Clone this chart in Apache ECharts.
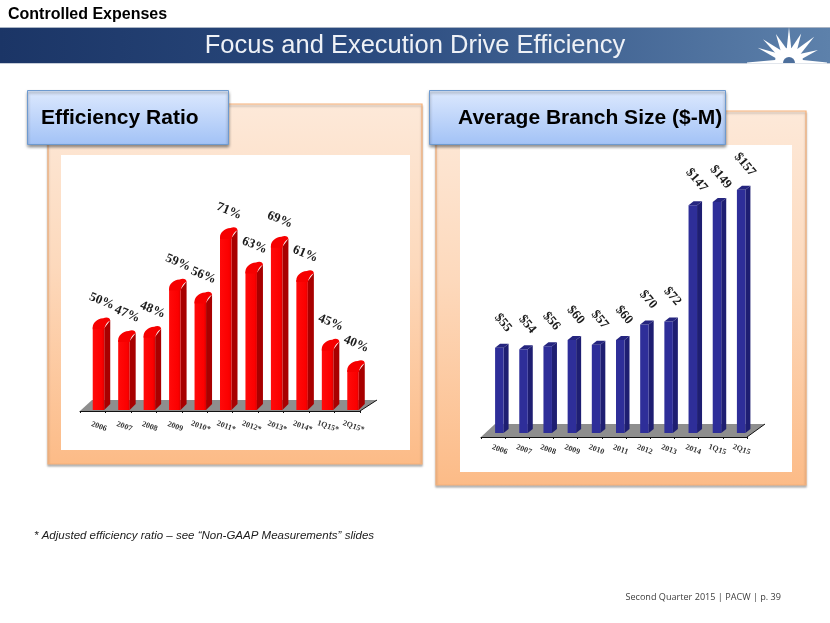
<!DOCTYPE html>
<html><head><meta charset="utf-8">
<style>html,body{margin:0;padding:0;background:#fff}#c{width:830px;height:623px}</style>
<script src="https://cdn.jsdelivr.net/npm/echarts@6/dist/echarts.min.js"></script>
</head><body><div id="c"></div>
<script>
const effCategories = ['2006','2007','2008','2009','2010*','2011*','2012*','2013*','2014*','1Q15*','2Q15*'];
const effValues = [50,47,48,59,56,71,63,69,61,45,40];
const branchCategories = ['2006','2007','2008','2009','2010','2011','2012','2013','2014','1Q15','2Q15'];
const branchValues = [55,54,56,60,57,60,70,72,147,149,157];

const chart = echarts.init(document.getElementById('c'), null, {renderer:'canvas'});
const deg = Math.PI/180;

function floorItem(cfg){
  return function(params, api){
    const r = params.coordSys;
    const fy = r.y + r.height + cfg.frontDrop, by = fy - cfg.floorDepth;
    const x0 = r.x, x1 = r.x + r.width;
    return {type:'group', children:[
      {type:'polygon', shape:{points:[[x0,fy],[x1,fy],[x1+cfg.floorRight,by],[x0+cfg.floorLeft,by]]},
       style:{fill:'#8e8e8e'}},
      {type:'polyline', shape:{points:[[x1,fy],[x1+cfg.floorRight,by]]},
       style:{stroke:'#111',lineWidth:1,fill:null}}
    ]};
  };
}

function barItem(cfg, fmt){
  return function(params, api){
    const v = api.value(1);
    const top = api.coord([api.value(0), v]);
    const bandC = top[0];
    const yb = params.coordSys.y + params.coordSys.height;
    const yt = top[1];
    const xl = bandC + cfg.barOffset, xr = xl + cfg.barWidth;
    const dx = cfg.depthX, dy = cfg.depthY;
    const kids = [];
    if (cfg.round){
      kids.push({type:'polygon', shape:{points:[[xr,yb],[xr+dx,yb-dy],[xr+dx,yt-dy+2],[xr,yt+4]]}, style:{fill:cfg.sideColor}});
      kids.push({type:'polygon', shape:{points:[[xl,yb],[xr,yb],[xr,yt+3],[xl,yt+3]]}, style:{fill:cfg.frontColor}});
      kids.push({type:'path', shape:{pathData:
        `M${xl} ${yt+3} C${xl} ${yt-1} ${xl+4} ${yt-dy+0.5} ${xr-1} ${yt-dy} C${xr+2} ${yt-dy-1.5} ${xr+dx} ${yt-dy-1} ${xr+dx} ${yt-dy+2.5} C${xr+dx-2} ${yt-dy+3} ${xr+1} ${yt} ${xr} ${yt+5} L${xl} ${yt+5} Z`},
        style:{fill:cfg.capColor}});
    } else {
      kids.push({type:'polygon', shape:{points:[[xr,yb],[xr+dx,yb-dy],[xr+dx,yt-dy],[xr,yt]]}, style:{fill:cfg.sideColor}});
      kids.push({type:'polygon', shape:{points:[[xl,yb],[xr,yb],[xr,yt],[xl,yt]]}, style:{fill:cfg.frontColor}});
      kids.push({type:'polygon', shape:{points:[[xl,yt],[xr,yt],[xr+dx,yt-dy],[xl+dx,yt-dy]]}, style:{fill:cfg.capColor}});
    }
    kids.push({type:'text', x:bandC+cfg.labelDx, y:yt+cfg.labelDy, rotation:-cfg.labelRot*deg,
      style:{text:fmt(v), font:`bold ${cfg.labelSize}px "Liberation Serif"`, fill:'#1c1c1c', align:'center', verticalAlign:'middle'}});
    return {type:'group', children:kids};
  };
}

const cfgL = {frontDrop:1,floorDepth:11,floorRight:17,floorLeft:12,barOffset:0,barWidth:11.5,depthX:6,depthY:6,
  round:true,sideColor:'#a80000',frontColor:{type:'linear',x:0,y:0,x2:1,y2:0,colorStops:[{offset:0,color:'#ff0a0a'},{offset:0.8,color:'#fb0000'},{offset:1,color:'#dc0000'}]},capColor:'#f60000',
  labelDx:9,labelDy:-23,labelRot:22,labelSize:13};
const cfgR = {frontDrop:4,floorDepth:13,floorRight:18,floorLeft:14,barOffset:2,barWidth:8.5,depthX:5,depthY:4,
  round:false,sideColor:'#1e1e72',frontColor:'#2e2e99',capColor:'#25257f',
  labelDx:10,labelDy:-25,labelRot:50,labelSize:13};

// decorative layer
const gfx = [];
gfx.push({type:'rect',z:-5,shape:{x:0,y:27,width:830,height:36.5},
  style:{fill:{type:'linear',x:0,y:0,x2:1,y2:0,colorStops:[{offset:0,color:'#1b3566'},{offset:0.45,color:'#2b4b7f'},{offset:1,color:'#5d81ab'}]}}});
gfx.push({type:'rect',z:-5,shape:{x:0,y:27,width:830,height:1},style:{fill:'#a9b4c4'}});
gfx.push({type:'rect',z:-5,shape:{x:0,y:63,width:830,height:1},style:{fill:'#c5ccd8'}});
// sun logo
const sunC = [789,61];
const rays = [[-67,34,3],[-50,34,3.5],[-26,30,3.5],[0,34,2.5],[24,30,3.5],[46,35,3.5],[69,31,3]];
rays.forEach(r=>{
  const a=r[0]*deg, tip=[sunC[0]+Math.sin(a)*r[1], sunC[1]-Math.cos(a)*r[1]];
  const w=r[2], px=Math.cos(a)*w, py=Math.sin(a)*w, bx=sunC[0]+Math.sin(a)*10, by=sunC[1]-Math.cos(a)*10;
  gfx.push({type:'polygon',z:-4,shape:{points:[tip,[bx+px,by+py],[bx-px,by-py]]},style:{fill:'#fff'}});
});
gfx.push({type:'sector',z:-4,shape:{cx:789,cy:62,r:14,startAngle:Math.PI,endAngle:2*Math.PI},style:{fill:'#fff'}});
gfx.push({type:'polygon',z:-4,shape:{points:[[747,62.5],[775,60],[803,60],[827,62.5],[827,63.5],[747,63.5]]},style:{fill:'#fff'}});
gfx.push({type:'sector',z:-3,shape:{cx:789,cy:63,r:6,startAngle:Math.PI,endAngle:2*Math.PI},style:{fill:'#4d6f9c'}});
// panels
function panel(x,y,w,h,wx,wy,ww,wh){
  gfx.push({type:'rect',z:-5,shape:{x,y,width:w,height:h},
    style:{fill:{type:'linear',x:0,y:0,x2:0,y2:1,colorStops:[{offset:0,color:'#fde9d9'},{offset:0.45,color:'#fdd9bc'},{offset:1,color:'#fcbb87'}]},
      stroke:'#f8b27a',lineWidth:1.2,shadowColor:'rgba(90,90,90,0.45)',shadowBlur:2,shadowOffsetX:0,shadowOffsetY:2}});
  gfx.push({type:'rect',z:-4,shape:{x:wx,y:wy,width:ww,height:wh},style:{fill:'#fff'}});
}
panel(48,104,374,360,61,155,349,295);
panel(436,111,370,374,460,145,332,327);
function tab(x,y,w,h,txt,tx){
  gfx.push({type:'rect',z:-3,shape:{x,y,width:w,height:h},
    style:{fill:{type:'linear',x:0,y:0,x2:0,y2:1,colorStops:[{offset:0,color:'#dde9fe'},{offset:1,color:'#a2c2f6'}]},
      stroke:'#6e9acf',lineWidth:1,shadowColor:'rgba(60,60,60,0.6)',shadowBlur:3,shadowOffsetY:2}});
  gfx.push({type:'text',z:-2,x:tx,y:y+h/2+0.5,style:{text:txt,font:'bold 21px "Liberation Sans"',fill:'#000',verticalAlign:'middle'}});
}
tab(27.5,90.5,201,54,'Efficiency Ratio',41);
tab(429.5,90.5,296,54,'Average Branch Size ($-M)',458);
gfx.push({type:'text',x:8,y:15,style:{text:'Controlled Expenses',font:'bold 16px "Liberation Sans"',fill:'#000',verticalAlign:'middle'}});
gfx.push({type:'text',z:-2,x:415,y:45.5,style:{text:'Focus and Execution Drive Efficiency',font:'25.5px "Liberation Sans"',fill:'#eef1f6',align:'center',verticalAlign:'middle'}});
gfx.push({type:'text',x:34,y:536,style:{text:'* Adjusted efficiency ratio \u2013 see \u201cNon-GAAP Measurements\u201d slides',font:'italic 11.5px "Liberation Sans"',fill:'#1a1a1a',verticalAlign:'middle'}});
gfx.push({type:'text',x:781,y:597,style:{text:'Second Quarter 2015 | PACW | p. 39',font:'9.1px "Open Sans"',fill:'#404040',align:'right',verticalAlign:'middle'}});

function xAxisOf(idx, cats, offset, pad, margin){
  return {type:'category',gridIndex:idx,data:cats,offset,
    axisLine:{show:true,onZero:false,lineStyle:{color:'#111',width:1}},
    axisTick:{show:true,length:2,lineStyle:{color:'#111'}},
    axisLabel:{rotate:-20,interval:0,margin,hideOverlap:false,align:'center',verticalAlign:'top',padding:[0,0,0,pad],
      fontFamily:'Liberation Serif',fontWeight:'bold',fontSize:8,color:'#333'}};
}

chart.setOption({
  animation:false,
  backgroundColor:'#fff',
  graphic:{elements:gfx},
  grid:[
    {left:80,width:280,top:195.5,height:214.5},
    {left:481,width:266,top:185,height:248}
  ],
  xAxis:[xAxisOf(0,effCategories,1,16,9),xAxisOf(1,branchCategories,4,17,6)],
  yAxis:[
    {type:'value',gridIndex:0,min:30,max:80,show:false},
    {type:'value',gridIndex:1,min:0,max:160,show:false}
  ],
  series:[
    {type:'custom',xAxisIndex:0,yAxisIndex:0,z:2,clip:false,silent:true,data:[[0,30]],renderItem:floorItem(cfgL)},
    {type:'custom',xAxisIndex:1,yAxisIndex:1,z:2,clip:false,silent:true,data:[[0,0]],renderItem:floorItem(cfgR)},
    {type:'custom',name:'Efficiency Ratio',xAxisIndex:0,yAxisIndex:0,z:3,clip:false,
      encode:{x:0,y:1},data:effValues.map((v,i)=>[i,v]),renderItem:barItem(cfgL,v=>v+'%')},
    {type:'custom',name:'Average Branch Size',xAxisIndex:1,yAxisIndex:1,z:3,clip:false,
      encode:{x:0,y:1},data:branchValues.map((v,i)=>[i,v]),renderItem:barItem(cfgR,v=>'$'+v)}
  ]
});
</script></body></html>
